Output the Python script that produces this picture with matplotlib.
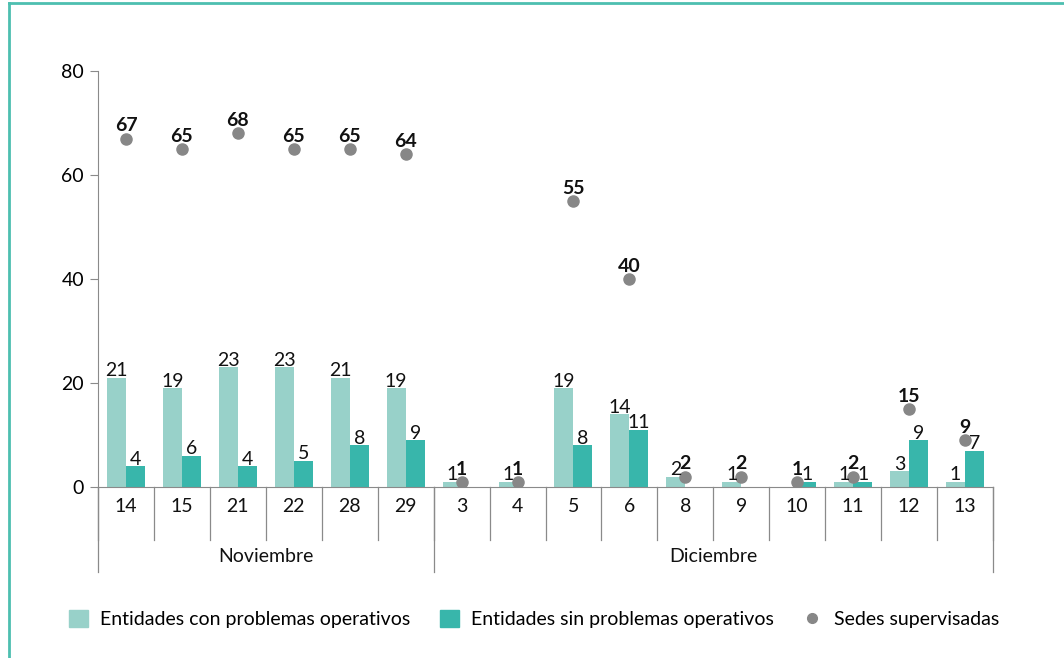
import matplotlib
matplotlib.use("Agg")
import matplotlib.pyplot as plt
from matplotlib.lines import Line2D
from matplotlib.patches import Patch
import numpy as np

plt.rcParams['font.family'] = ['Lato', 'DejaVu Sans']

days = ["14", "15", "21", "22", "28", "29", "3", "4", "5", "6", "8", "9", "10", "11", "12", "13"]
months = ["Noviembre", "Diciembre"]
month_counts = [6, 10]
con_problemas = [21, 19, 23, 23, 21, 19, 1, 1, 19, 14, 2, 1, 0, 1, 3, 1]
sin_problemas = [4, 6, 4, 5, 8, 9, 0, 0, 8, 11, 0, 0, 1, 1, 9, 7]
sedes = [67, 65, 68, 65, 65, 64, 1, 1, 55, 40, 2, 2, 1, 2, 15, 9]
legend_labels = ["Entidades con problemas operativos", "Entidades sin problemas operativos", "Sedes supervisadas"]

c_light = "#98d1c9"
c_dark = "#38b6ab"
c_dot = "#878787"
c_axis = "#8a8a8a"
c_frame = "#4dbfb0"

W, H = 1064, 658
fig = plt.figure(figsize=(W / 100, H / 100), dpi=100)
ax = fig.add_axes([98 / W, 1 - 487 / H, (993 - 98) / W, (487 - 71) / H])

n = len(days)
x = np.arange(n)
bw = 0.34
ax.bar(x - bw / 2, con_problemas, bw, color=c_light, zorder=2)
ax.bar(x + bw / 2, sin_problemas, bw, color=c_dark, zorder=2)
ax.plot(x, sedes, 'o', color=c_dot, ms=8, zorder=3)

fs = 14
for i in range(n):
    if con_problemas[i] > 0:
        ax.annotate(str(con_problemas[i]), (x[i] - bw / 2, con_problemas[i]), xytext=(0, -1),
                    textcoords="offset points", ha="center", va="bottom", fontsize=fs, color="#111")
    if sin_problemas[i] > 0:
        ax.annotate(str(sin_problemas[i]), (x[i] + bw / 2, sin_problemas[i]), xytext=(0, -1),
                    textcoords="offset points", ha="center", va="bottom", fontsize=fs, color="#111")
    ax.annotate(str(sedes[i]), (x[i], sedes[i]), xytext=(0, 3),
                textcoords="offset points", ha="center", va="bottom", fontsize=fs,
                fontweight="bold", color="#111")

ax.set_xlim(-0.5, n - 0.5)
ax.set_ylim(0, 80)
ax.set_yticks([0, 20, 40, 60, 80])
ax.tick_params(axis='y', length=6, color=c_axis, labelsize=fs, pad=4)
ax.set_xticks([])
for s in ["top", "right"]:
    ax.spines[s].set_visible(False)
ax.spines["left"].set_color(c_axis)
ax.spines["bottom"].set_color(c_axis)

tr = ax.get_xaxis_transform()
y_day = -53 / 416
y_month = -85 / 416
for i in range(n + 1):
    ax.add_line(Line2D([i - 0.5, i - 0.5], [0, y_day], transform=tr, color=c_axis, lw=0.9, clip_on=False))
for i, d in enumerate(days):
    ax.text(i, -20 / 416, d, transform=tr, ha="center", va="center", fontsize=fs, color="#111")
start = 0
bounds = [0]
for m, c in zip(months, month_counts):
    ax.text(start + c / 2 - 0.5, -70 / 416, m, transform=tr, ha="center", va="center", fontsize=fs, color="#111")
    start += c
    bounds.append(start)
for b in bounds:
    ax.add_line(Line2D([b - 0.5, b - 0.5], [0, y_month], transform=tr, color=c_axis, lw=0.9, clip_on=False))

handles = [Patch(color=c_light), Patch(color=c_dark),
           Line2D([], [], marker='o', ls='none', color=c_dot, ms=7)]
fig.legend(handles, legend_labels, loc="center", bbox_to_anchor=(534 / W, 1 - 619 / H), ncol=3,
           frameon=False, fontsize=fs, handlelength=1.0, handleheight=1.0, handletextpad=0.6,
           columnspacing=1.5)

fig.add_artist(Line2D([9 / W, 9 / W], [0, 1 - 3 / H], transform=fig.transFigure, color=c_frame, lw=2))
fig.add_artist(Line2D([9 / W, 1], [1 - 3 / H, 1 - 3 / H], transform=fig.transFigure, color=c_frame, lw=2))

fig.savefig("out.png", dpi=100, facecolor="white")
